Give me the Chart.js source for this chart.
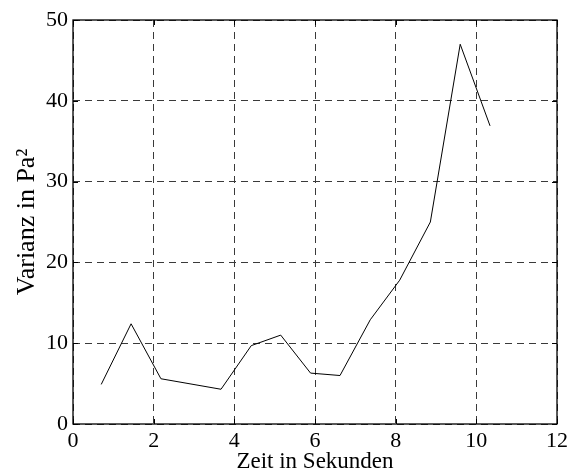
<!DOCTYPE html>
<html><head><meta charset="utf-8">
<script src="https://cdn.jsdelivr.net/npm/chart.js@4.4.0/dist/chart.umd.min.js"></script>
<style>html,body{margin:0;padding:0;background:#fff}canvas{display:block}</style>
</head><body>
<canvas id="c" width="568" height="472"></canvas>
<script>
const timeSeconds = [0.70, 1.44, 2.18, 3.67, 4.42, 5.15, 5.89, 6.62, 7.37, 8.10, 8.86, 9.60, 10.34];
const varianceValues = [4.9, 12.4, 5.6, 4.3, 9.7, 11.0, 6.3, 6.0, 12.9, 17.8, 25.0, 47.0, 36.9];
const xTicks = [0, 2, 4, 6, 8, 10, 12];
const yTicks = [0, 10, 20, 30, 40, 50];
const xTitle = 'Zeit in Sekunden';
const yTitle = 'Varianz in Pa²';

const FONT = 'Liberation Serif, Times New Roman, serif';

const framePlugin = {
  id: 'frame',
  afterDraw(chart) {
    const {ctx, chartArea: a, scales: {x, y}} = chart;
    ctx.save();
    ctx.strokeStyle = '#000';
    ctx.lineWidth = 1.3;
    ctx.setLineDash([]);
    ctx.strokeRect(a.left, a.top, a.right - a.left, a.bottom - a.top);
    ctx.lineWidth = 1;
    const t = 5;
    xTicks.forEach(v => {
      const px = Math.round(x.getPixelForValue(v)) + 0.5;
      ctx.beginPath();
      ctx.moveTo(px, a.bottom); ctx.lineTo(px, a.bottom - t);
      ctx.moveTo(px, a.top); ctx.lineTo(px, a.top + t);
      ctx.stroke();
    });
    yTicks.forEach(v => {
      const py = Math.round(y.getPixelForValue(v)) + 0.5;
      ctx.beginPath();
      ctx.moveTo(a.left, py); ctx.lineTo(a.left + t, py);
      ctx.moveTo(a.right, py); ctx.lineTo(a.right - t, py);
      ctx.stroke();
    });
    ctx.restore();
  }
};

new Chart(document.getElementById('c'), {
  type: 'line',
  data: {
    datasets: [{
      data: timeSeconds.map((t, i) => ({x: t, y: varianceValues[i]})),
      borderColor: '#000',
      borderWidth: 1,
      pointRadius: 0,
      tension: 0,
      fill: false
    }]
  },
  options: {
    responsive: false,
    animation: false,
    layout: {padding: {left: 0, top: 20, right: 11, bottom: 0}},
    plugins: {legend: {display: false}, tooltip: {enabled: false}},
    scales: {
      x: {
        type: 'linear', min: 0, max: 12,
        afterBuildTicks: s => { s.ticks = xTicks.map(v => ({value: v})); },
        afterFit: s => { s.height = 48; s.paddingLeft = 0; s.paddingRight = 0; },
        border: {display: false, dash: [7, 5]},
        grid: {color: '#3a3a3a', lineWidth: 1, drawTicks: false},
        ticks: {color: '#000', font: {family: FONT, size: 22}, padding: 4, maxRotation: 0, autoSkip: false},
        title: {display: true, text: xTitle, color: '#000', font: {family: FONT, size: 23}, padding: {top: 0, bottom: -4}}
      },
      y: {
        type: 'linear', min: 0, max: 50,
        afterBuildTicks: s => { s.ticks = yTicks.map(v => ({value: v})); },
        afterFit: s => { s.width = 73; s.paddingTop = 0; s.paddingBottom = 0; },
        border: {display: false, dash: [7, 5]},
        grid: {color: '#3a3a3a', lineWidth: 1, drawTicks: false},
        ticks: {color: '#000', font: {family: FONT, size: 22}, padding: 5, autoSkip: false},
        title: {display: true, text: yTitle, color: '#000', font: {family: FONT, size: 26}, padding: {top: 12, bottom: 0}}
      }
    }
  },
  plugins: [framePlugin]
});
</script>
</body></html>
